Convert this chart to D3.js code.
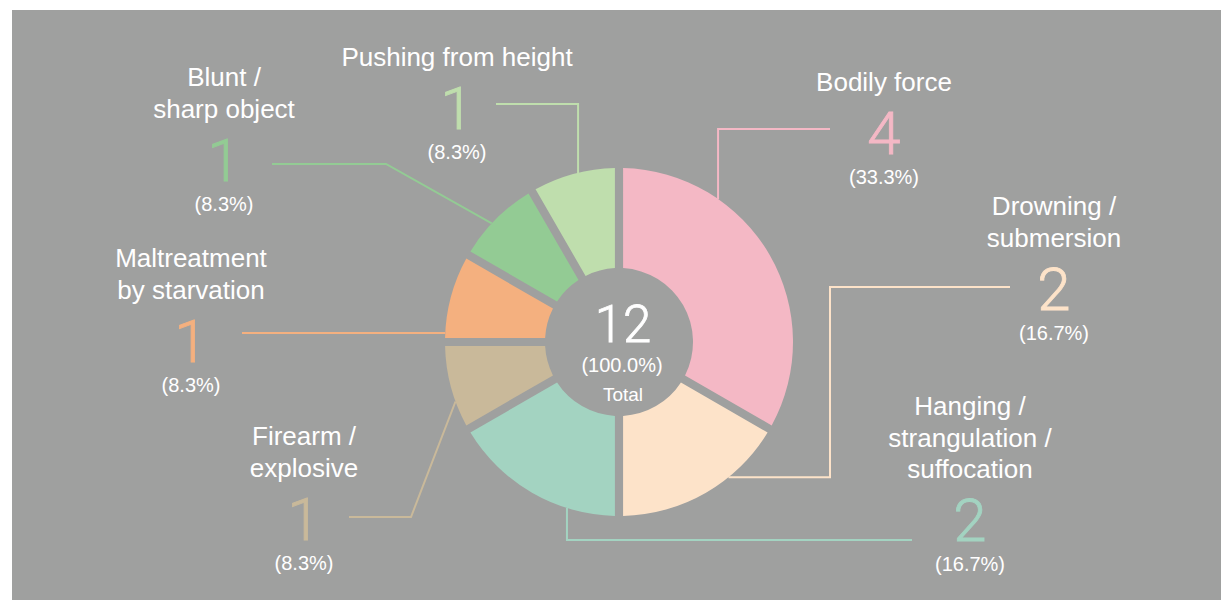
<!DOCTYPE html>
<html>
<head>
<meta charset="utf-8">
<script src="https://cdn.jsdelivr.net/npm/d3@7"></script>
<style>
  body { margin: 0; background: #fff; }
  svg text { font-family: "Liberation Sans", Helvetica, Arial, sans-serif; fill: #fff; }
  svg text.big { font-family: Roboto, "Liberation Sans", sans-serif; font-weight: 300; stroke-width: 0.8; }
</style>
</head>
<body>
<svg id="chart" width="1221" height="600"></svg>
<script>
// data, clockwise from 12 o'clock
var categories = ["Bodily force", "Drowning / submersion", "Hanging / strangulation / suffocation",
	"Firearm / explosive", "Maltreatment by starvation", "Blunt / sharp object", "Pushing from height"];
var labelLines = [["Bodily force"], ["Drowning /", "submersion"], ["Hanging /", "strangulation /", "suffocation"],
	["Firearm /", "explosive"], ["Maltreatment", "by starvation"], ["Blunt /", "sharp object"], ["Pushing from height"]];
var counts = [4, 2, 2, 1, 1, 1, 1];
var colors = ["#f4b8c5", "#fde3c9", "#a3d3c1", "#c9b99a", "#f4b07f", "#93cb94", "#bfdead"];
var totalLabel = "Total";

// layout
var cx = 619, cy = 342, rIn = 74, rOut = 174;
var labelPos = [[884, 91], [1054, 215], [970, 415], [304, 445], [191, 267], [224, 86], [457, 66]];
var leaders = [
	{angle: 34.7, steps: [["v", 129], ["h", 830]]},
	{angle: 141, steps: [["h", 830], ["v", 287], ["h", 1010]]},
	{angle: 197.4, steps: [["v", 540], ["h", 912]]},
	{angle: 250, steps: [["l", 411, 517], ["h", 349]]},
	{angle: 273, steps: [["h", 242]]},
	{angle: 313, steps: [["l", 386, 164], ["h", 272]]},
	{angle: 346.4, steps: [["v", 104], ["h", 496]]}
];

var svg = d3.select("#chart");

svg.append("rect")
	.attr("x", 12).attr("y", 10)
	.attr("width", 1221 - 12).attr("height", 600 - 10)
	.attr("fill", "#9fa09f");

var total = d3.sum(counts);
var fmt = function(v) { return "(" + (v / total * 100).toFixed(1) + "%)"; };

var pie = d3.pie().sort(null).value(function(d) { return d; });
var arc = d3.arc().innerRadius(rIn).outerRadius(rOut).padRadius(rOut).padAngle(0.047);

var g = svg.append("g").attr("transform", "translate(" + cx + "," + cy + ")");

g.selectAll("path.slice")
	.data(pie(counts))
	.enter().append("path")
	.attr("class", "slice")
	.attr("d", arc)
	.attr("fill", function(d, i) { return colors[i]; });

// leader lines: start on the outer edge, then follow the steps
function leaderPath(l) {
	var a = l.angle * Math.PI / 180;
	var x = cx + rOut * Math.sin(a), y = cy - rOut * Math.cos(a);
	var pts = [[x, y]];
	l.steps.forEach(function(s) {
		if (s[0] == "v") y = s[1];
		else if (s[0] == "h") x = s[1];
		else { x = s[1]; y = s[2]; }
		pts.push([x, y]);
	});
	return d3.line()(pts);
}

svg.selectAll("path.leader")
	.data(leaders)
	.enter().append("path")
	.attr("class", "leader")
	.attr("d", leaderPath)
	.attr("fill", "none")
	.attr("stroke", function(d, i) { return colors[i]; })
	.attr("stroke-width", 2);

// labels
var lab = svg.selectAll("g.label")
	.data(categories)
	.enter().append("g")
	.attr("class", "label")
	.attr("text-anchor", "middle");

lab.each(function(c, i) {
	var el = d3.select(this), p = labelPos[i], lines = labelLines[i];
	lines.forEach(function(t, k) {
		el.append("text")
			.attr("x", p[0]).attr("y", p[1] + k * 31.5)
			.style("font-size", "26px")
			.text(t);
	});
	var ny = p[1] + (lines.length - 1) * 31.5 + 63;
	el.append("text")
		.attr("class", "big")
		.attr("x", p[0]).attr("y", ny)
		.style("font-size", "60px")
		.style("fill", colors[i])
		.style("stroke", colors[i])
		.text(counts[i]);
	el.append("text")
		.attr("x", p[0]).attr("y", ny + 30)
		.style("font-size", "20px")
		.text(fmt(counts[i]));
});

// centre total
var ct = svg.append("g").attr("text-anchor", "middle");
ct.append("text").attr("class", "big")
	.attr("x", cx + 4).attr("y", cy)
	.style("font-size", "51px")
	.style("stroke", "#fff")
	.text(total);
ct.append("text")
	.attr("x", cx + 3).attr("y", cy + 30)
	.style("font-size", "20px")
	.text(fmt(total));
ct.append("text")
	.attr("x", cx + 4).attr("y", cy + 59)
	.style("font-size", "19px")
	.text(totalLabel);
</script>
</body>
</html>
